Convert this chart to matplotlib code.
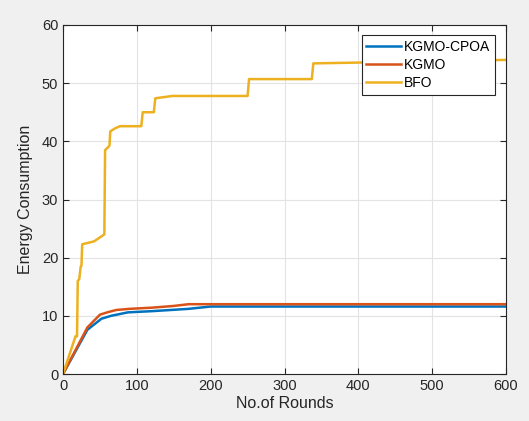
import numpy as np
import matplotlib.pyplot as plt

plt.rcParams['font.family'] = ['Liberation Sans', 'DejaVu Sans']

# BFO
bfo_x = [0, 17, 19, 20, 22, 24, 25, 26, 42, 56, 57, 62, 63, 64, 70, 77, 106, 108, 123, 125, 148, 250, 252, 337, 339, 600]
bfo_y = [0, 6.5, 6.5, 16.0, 16.3, 18.5, 18.6, 22.3, 22.8, 24.0, 38.5, 39.1, 39.3, 41.7, 42.2, 42.6, 42.6, 45.0, 45.0, 47.4, 47.8, 47.8, 50.7, 50.7, 53.4, 54.0]

# KGMO
kgmo_x = [0, 33, 50, 60, 72, 90, 120, 150, 170, 200, 600]
kgmo_y = [0, 8.0, 10.2, 10.6, 11.0, 11.2, 11.4, 11.7, 12.0, 12.0, 12.0]

# KGMO-CPOA
cpoa_x = [0, 33, 52, 65, 88, 120, 170, 200, 600]
cpoa_y = [0, 7.6, 9.5, 10.0, 10.6, 10.8, 11.2, 11.6, 11.6]

fig = plt.figure(figsize=(5.29, 4.21), dpi=100, facecolor='#f0f0f0')
ax = fig.add_axes([63/529, 47/421, 443/529, 349/421])
ax.set_facecolor('white')

ax.plot(cpoa_x, cpoa_y, color='#0072BD', lw=1.8, label='KGMO-CPOA')
ax.plot(kgmo_x, kgmo_y, color='#D95319', lw=1.8, label='KGMO')
ax.plot(bfo_x, bfo_y, color='#EDB120', lw=1.8, label='BFO')

ax.set_xlim(0, 600)
ax.set_ylim(0, 60)
ax.set_xticks(np.arange(0, 601, 100))
ax.set_yticks(np.arange(0, 61, 10))
ax.grid(True, color='#e3e3e3', lw=0.8)
ax.tick_params(direction='in', top=True, right=True, labelsize=10.5, colors='#262626', length=4)
for s in ax.spines.values():
    s.set_color('#262626')
    s.set_linewidth(0.8)

ax.set_xlabel('No.of Rounds', fontsize=11.5, color='#262626', labelpad=2)
ax.set_ylabel('Energy Consumption', fontsize=11.5, color='#262626', labelpad=6)

leg = ax.legend(loc='upper right', bbox_to_anchor=(495/529, 1 - 35/421), bbox_transform=fig.transFigure,
                fontsize=10, fancybox=False, framealpha=1, edgecolor='#262626',
                handlelength=2.5, handletextpad=0.2, borderpad=0.35, labelspacing=0.3, borderaxespad=0)
leg.get_frame().set_linewidth(0.8)

fig.savefig('out.png', dpi=100, facecolor=fig.get_facecolor())
